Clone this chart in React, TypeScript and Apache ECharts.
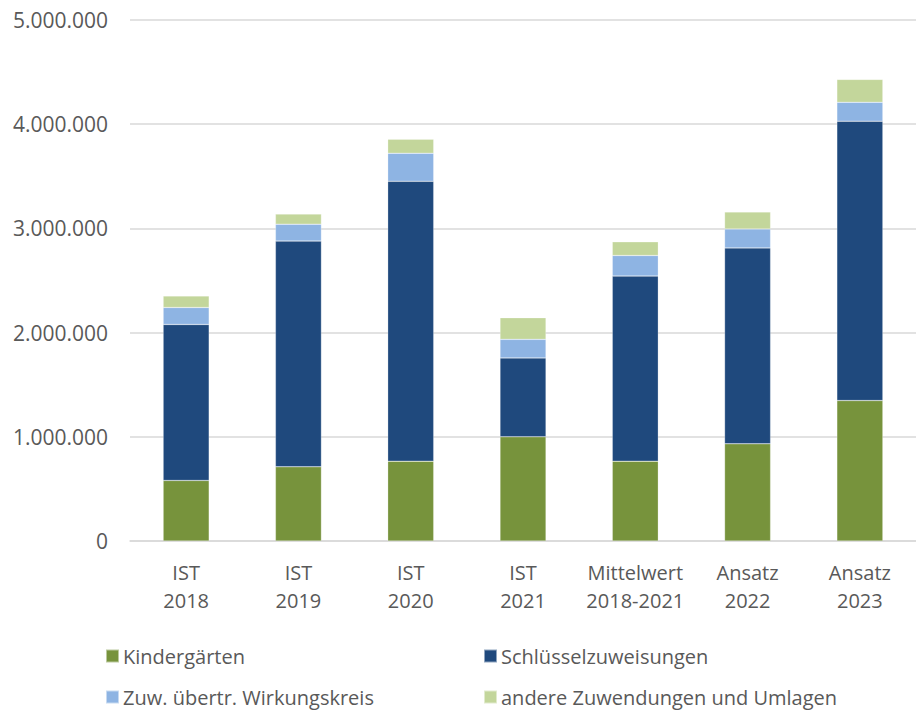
import React, { useEffect, useRef } from "react";
import * as echarts from "echarts";

const categories = ["IST\n2018", "IST\n2019", "IST\n2020", "IST\n2021", "Mittelwert\n2018-2021", "Ansatz\n2022", "Ansatz\n2023"];
const kindergaerten = [581000, 712000, 766000, 1000000, 766000, 933000, 1348000];
const schluessel = [1497000, 2166000, 2686000, 757000, 1776000, 1880000, 2681000];
const zuwWirkungskreis = [163000, 163000, 269000, 178000, 198000, 182000, 181000];
const andere = [111000, 96000, 135000, 208000, 131000, 163000, 220000];
const seriesNames = ["Kindergärten", "Schlüsselzuweisungen", "Zuw. übertr. Wirkungskreis", "andere Zuwendungen und Umlagen"];
const colors = ["#77933C", "#1F497D", "#8EB4E3", "#C3D69B"];

const FONT = "'Open Sans', 'DejaVu Sans', sans-serif";

function fmt(v: number): string {
  return String(Math.round(v)).replace(/\B(?=(\d{3})+(?!\d))/g, ".");
}

export default function App() {
  const ref = useRef<HTMLDivElement>(null);
  useEffect(() => {
    if (!ref.current) return;
    const chart = echarts.init(ref.current, undefined, { renderer: "svg" });
    const data = [kindergaerten, schluessel, zuwWirkungskreis, andere];
    const legendPos = [
      { left: 100, top: 641 },
      { left: 478, top: 641 },
      { left: 100, top: 682 },
      { left: 478, top: 682 },
    ];
    chart.setOption({
      animation: false,
      backgroundColor: "#ffffff",
      textStyle: { fontFamily: FONT },
      grid: { left: 130, right: 0, top: 20, bottom: 172, containLabel: false },
      legend: seriesNames.map((n, i) => ({
        data: [n],
        left: legendPos[i].left,
        top: legendPos[i].top,
        icon: "rect",
        itemWidth: 13,
        itemHeight: 13,
        itemGap: 6,
        textStyle: { fontFamily: FONT, fontSize: 20, color: "#595959", padding: [0, 0, 0, -1] },
        selectedMode: false,
      })),
      xAxis: {
        type: "category",
        data: categories,
        axisLine: { show: true, lineStyle: { color: "#d9d9d9", width: 1.5 } },
        axisTick: { show: false },
        axisLabel: {
          color: "#595959",
          fontFamily: FONT,
          fontSize: 20,
          lineHeight: 28,
          margin: 17,
          interval: 0,
        },
      },
      yAxis: {
        type: "value",
        min: 0,
        max: 5000000,
        interval: 1000000,
        axisLine: { show: false },
        axisTick: { show: false },
        splitLine: { lineStyle: { color: "#d9d9d9", width: 1.5 } },
        axisLabel: {
          color: "#595959",
          fontFamily: FONT,
          fontSize: 21,
          margin: 22,
          formatter: (v: number) => fmt(v),
        },
      },
      series: seriesNames.map((n, i) => ({
        name: n,
        type: "bar",
        stack: "total",
        data: data[i],
        barWidth: 46,
        itemStyle: { color: colors[i], borderColor: "rgba(255,255,255,0.5)", borderWidth: 0.5 },
      })),
    });
    return () => chart.dispose();
  }, []);
  return <div ref={ref} style={{ position: "absolute", left: 0, top: 0, width: 916, height: 713 }} />;
}
